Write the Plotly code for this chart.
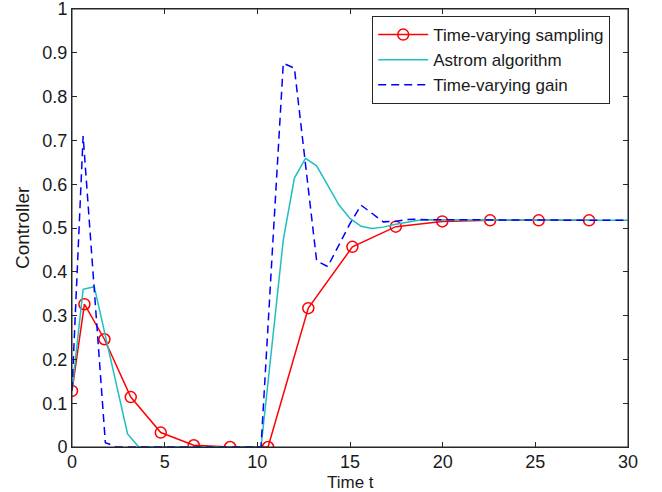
import plotly.graph_objects as go

# Time-varying sampling (red, circles)
t_sampling = [0, 0.67, 1.75, 3.17, 4.79, 6.57, 8.53, 10.58, 12.75, 15.13, 17.47, 19.98, 22.56, 25.18, 27.9]
u_sampling = [0.128, 0.326, 0.246, 0.114, 0.033, 0.004, 0.0, 0.0, 0.317, 0.457, 0.503, 0.515, 0.5175, 0.5175, 0.5175]

# Astrom algorithm (cyan)
t_astrom = [0, 0.6, 1.2, 1.8, 2.4, 3.0, 3.6, 10.2, 10.8, 11.4, 12.0, 12.6, 13.2, 13.8, 14.4, 15.0,
            15.6, 16.2, 16.8, 17.4, 18.0, 18.6, 19.2, 19.8, 20.4, 30]
u_astrom = [0.13, 0.36, 0.366, 0.253, 0.14, 0.03, 0.0, 0.0, 0.236, 0.473, 0.614, 0.659, 0.642, 0.597,
            0.553, 0.522, 0.504, 0.499, 0.502, 0.508, 0.513, 0.517, 0.519, 0.519, 0.518, 0.5175]

# Time-varying gain (blue dashed)
t_gain = [0, 0.6, 1.2, 1.8, 2.4, 10.2, 10.8, 11.4, 12.0, 12.6, 13.2, 13.8, 14.4, 15.0, 15.6, 16.2,
          16.8, 17.4, 18.0, 18.6, 19.2, 30]
u_gain = [0.13, 0.71, 0.36, 0.01, 0.0, 0.0, 0.44, 0.876, 0.865, 0.645, 0.425, 0.412, 0.46, 0.51,
          0.552, 0.533, 0.514, 0.515, 0.519, 0.52, 0.519, 0.5175]

x_ticks = [0, 5, 10, 15, 20, 25, 30]
y_ticks = [0, 0.1, 0.2, 0.3, 0.4, 0.5, 0.6, 0.7, 0.8, 0.9, 1]
y_tick_labels = ["0", "0.1", "0.2", "0.3", "0.4", "0.5", "0.6", "0.7", "0.8", "0.9", "1"]

FONT = "Liberation Sans, Arial, sans-serif"

fig = go.Figure()
fig.add_trace(go.Scatter(
    x=t_sampling, y=u_sampling, mode="lines+markers", name="Time-varying sampling",
    line=dict(color="#ff0000", width=1.5),
    marker=dict(symbol="circle-open", size=11, color="#ff0000", line=dict(width=1.5)),
))
fig.add_trace(go.Scatter(
    x=t_astrom, y=u_astrom, mode="lines", name="Astrom algorithm",
    line=dict(color="#1fbfbf", width=1.5),
))
fig.add_trace(go.Scatter(
    x=t_gain, y=u_gain, mode="lines", name="Time-varying gain",
    line=dict(color="#0000ff", width=1.5, dash="8px,5px"),
))

axis_common = dict(
    showgrid=False, zeroline=False, showline=True, linecolor="#262626", linewidth=1,
    mirror="ticks", ticks="inside", ticklen=5, tickcolor="#262626", automargin=False,
    ticklabeloverflow="allow",
    tickfont=dict(family=FONT, size=18, color="#1a1a1a"),
)

fig.update_layout(
    width=662, height=492,
    margin=dict(l=72, r=34, t=9, b=45),
    paper_bgcolor="white", plot_bgcolor="white",
    font=dict(family=FONT, size=17, color="#1a1a1a"),
    showlegend=True,
    legend=dict(
        x=0.968, y=0.984, xanchor="right", yanchor="top",
        bgcolor="white", bordercolor="#262626", borderwidth=1,
        font=dict(size=17), itemwidth=50, tracegroupgap=0,
    ),
    xaxis=dict(range=[0, 30], tickvals=x_ticks, ticktext=[str(v) for v in x_ticks],
               ticklabelstandoff=-2, **axis_common),
    yaxis=dict(range=[0, 1], tickvals=y_ticks, ticktext=y_tick_labels, **axis_common),
    shapes=[
        dict(type="rect", xref="paper", yref="paper", x0=0, x1=1, y0=0, y1=1,
             line=dict(color="#262626", width=1), fillcolor="rgba(0,0,0,0)", layer="above"),
    ],
    annotations=[
        dict(text="Time t", xref="paper", yref="paper", x=0.5, y=0, xanchor="center",
             yanchor="middle", yshift=-35, showarrow=False, font=dict(family=FONT, size=17)),
        dict(text="Controller", xref="paper", yref="paper", x=0, y=0.5, xanchor="center",
             yanchor="middle", xshift=-50, textangle=-90, showarrow=False,
             font=dict(family=FONT, size=19)),
    ],
)

fig.write_html(
    "out.html",
    config={"displayModeBar": False},
    post_script="document.body.style.margin='0';document.body.style.overflow='hidden';",
)
